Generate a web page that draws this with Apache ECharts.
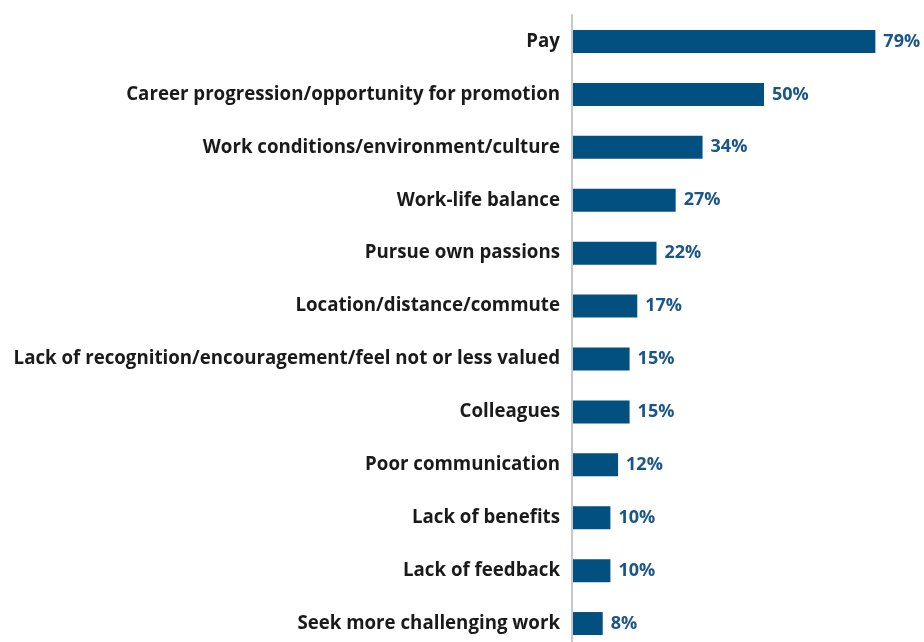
<!DOCTYPE html>
<html>
<head>
<meta charset="utf-8">
<script src="https://cdn.jsdelivr.net/npm/echarts@6/dist/echarts.min.js"></script>
<style>
  html, body { margin: 0; padding: 0; background: #ffffff; }
  #chart { width: 924px; height: 642px; }
</style>
</head>
<body>
<div id="chart"></div>
<script>
// Reasons, listed top to bottom
const categories = [
  'Pay',
  'Career progression/opportunity for promotion',
  'Work conditions/environment/culture',
  'Work-life balance',
  'Pursue own passions',
  'Location/distance/commute',
  'Lack of recognition/encouragement/feel not or less valued',
  'Colleagues',
  'Poor communication',
  'Lack of benefits',
  'Lack of feedback',
  'Seek more challenging work'
];
// Share of respondents, percent
const values = [79, 50, 34, 27, 22, 17, 15, 15, 12, 10, 10, 8];

const barColor = '#02507f';
const textFont = 'Open Sans';

const chart = echarts.init(document.getElementById('chart'), null, { renderer: 'canvas' });
chart.setOption({
  animation: false,
  backgroundColor: '#ffffff',
  grid: {
    left: 572, top: 15, width: 345.6, height: 635,
    outerBoundsMode: 'none',
    containLabel: false
  },
  xAxis: {
    type: 'value',
    min: 0,
    max: 90,
    show: false
  },
  yAxis: {
    type: 'category',
    data: categories,
    inverse: true,
    axisLine: { show: true, lineStyle: { color: '#c8c8c8', width: 2 } },
    axisTick: { show: false },
    axisLabel: {
      color: '#1a1a1a',
      fontFamily: textFont,
      fontWeight: 700,
      fontSize: 18.7,
      margin: 12
    },
    z: 5
  },
  series: [{
    type: 'bar',
    data: values,
    barWidth: 23,
    itemStyle: { color: barColor },
    label: {
      show: true,
      position: 'right',
      distance: 8,
      formatter: '{c}%',
      color: '#1b5689',
      fontFamily: textFont,
      fontWeight: 700,
      fontSize: 18
    },
    z: 2
  }]
});
</script>
</body>
</html>
